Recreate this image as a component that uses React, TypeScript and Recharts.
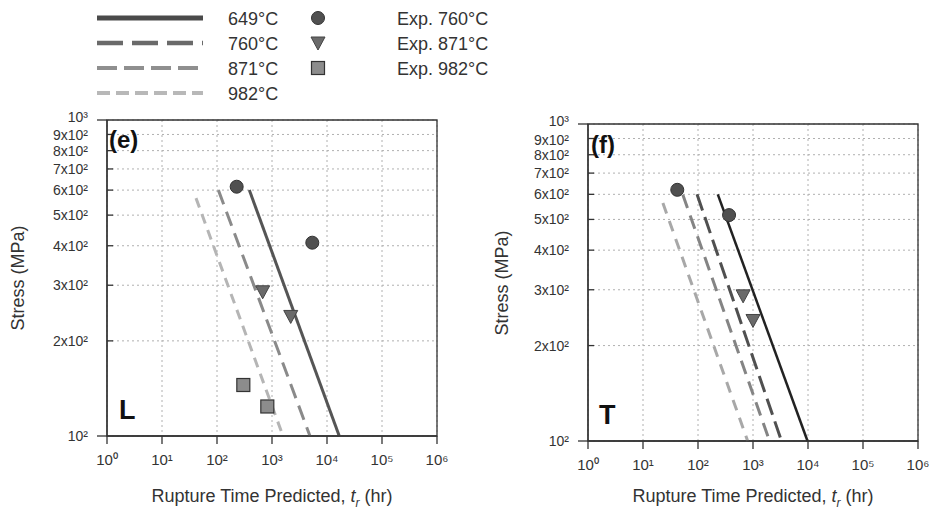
import { ComposedChart, Line, Scatter, XAxis, YAxis, CartesianGrid, ReferenceArea } from "recharts"

const timeTicks = [1, 10, 100, 1e3, 1e4, 1e5, 1e6]
const stressTicks = [100, 200, 300, 400, 500, 600, 700, 800, 900, 1000]
const supDigits = ["⁰", "¹", "²", "³", "⁴", "⁵", "⁶"]

// panel (e), L orientation
const e649 = [{ t: 387, s: 600 }, { t: 16700, s: 100 }]
const e871 = [{ t: 106, s: 600 }, { t: 4900, s: 100 }]
const e982 = [{ t: 41.5, s: 566 }, { t: 1585, s: 100 }]
const eExp760 = [{ t: 228, s: 615 }, { t: 5400, s: 409 }]
const eExp871 = [{ t: 677, s: 286 }, { t: 2190, s: 239 }]
const eExp982 = [{ t: 301, s: 145 }, { t: 822, s: 124 }]

// panel (f), T orientation
const f649 = [{ t: 229, s: 600 }, { t: 9800, s: 100 }]
const f760 = [{ t: 96, s: 600 }, { t: 3300, s: 100 }]
const f871 = [{ t: 53, s: 598 }, { t: 2000, s: 100 }]
const f982 = [{ t: 23, s: 563 }, { t: 800, s: 100 }]
const fExp760 = [{ t: 42, s: 620 }, { t: 367, s: 516 }]
const fExp871 = [{ t: 661, s: 287 }, { t: 1000, s: 240 }]

const font = "'Liberation Sans', Arial, sans-serif"
const txt = "#333"

const fmtTime = (v: number) => "10" + supDigits[Math.round(Math.log10(v))]
const fmtStress = (v: number) => (v === 1000 ? "10³" : v === 100 ? "10²" : `${v / 100}x10²`)

function XTick(p: any) {
  const { x, y, payload } = p
  return (
    <g>
      <line x1={x} x2={x} y1={y} y2={y + 8} stroke="#333" strokeWidth={1.3} />
      <text x={x} y={y + 29} textAnchor="middle" fontSize={15} fill={txt} fontFamily={font}>
        {fmtTime(payload.value)}
      </text>
    </g>
  )
}

function YTick(p: any) {
  const { x, y, payload } = p
  const decade = payload.value === 100 || payload.value === 1000
  // the top label sits a little higher so it doesn't run into 9x10²
  const dy = payload.value === 1000 ? 2 : payload.value === 900 ? 6 : 5
  return (
    <g>
      {decade ? (
        <line x1={x - 10} x2={x} y1={y} y2={y} stroke="#333" strokeWidth={1.3} />
      ) : (
        <line x1={x} x2={x + 6} y1={y} y2={y} stroke="#333" strokeWidth={1.3} />
      )}
      <text x={x - 19} y={y + dy} textAnchor="end" fontSize={14} fill={txt} fontFamily={font}>
        {fmtStress(payload.value)}
      </text>
    </g>
  )
}

const CircleDot = (p: any) => <circle cx={p.cx} cy={p.cy} r={6.5} fill="#505050" stroke="#333" strokeWidth={1} />
const TriDot = (p: any) => (
  <path
    d={`M${p.cx - 7},${p.cy - 6}L${p.cx + 7},${p.cy - 6}L${p.cx},${p.cy + 7}Z`}
    fill="#6a6a6a"
    stroke="#444"
    strokeWidth={1}
  />
)
const SquareDot = (p: any) => (
  <rect x={p.cx - 6.5} y={p.cy - 6.5} width={13} height={13} fill="#8c8c8c" stroke="#333" strokeWidth={1.2} />
)

type Series = { data: { t: number; s: number }[]; stroke: string; dash?: string; width: number }

function Panel(props: {
  left: number
  width: number
  margin: { top: number; right: number; bottom: number; left: number }
  yWidth: number
  lines: Series[]
  exp760: { t: number; s: number }[]
  exp871: { t: number; s: number }[]
  exp982?: { t: number; s: number }[]
}) {
  const { left, width, margin, yWidth, lines } = props
  return (
    <div style={{ position: "absolute", left, top: 0 }}>
      <ComposedChart width={width} height={517} margin={margin}>
        <CartesianGrid stroke="#b0b0b0" strokeDasharray="2 3" />
        <XAxis
          dataKey="t"
          type="number"
          scale="log"
          domain={[1, 1e6]}
          ticks={timeTicks}
          interval={0}
          height={30}
          tickSize={0}
          tickMargin={0}
          tick={<XTick />}
          axisLine={{ stroke: "#333", strokeWidth: 1.3 }}
        />
        <YAxis
          dataKey="s"
          type="number"
          scale="log"
          domain={[100, 1000]}
          ticks={stressTicks}
          interval={0}
          width={yWidth}
          tickSize={0}
          tickMargin={0}
          tick={<YTick />}
          axisLine={{ stroke: "#333", strokeWidth: 1.3 }}
        />
        <ReferenceArea x1={1} x2={1e6} y1={100} y2={1000} fill="none" stroke="#333" strokeWidth={1.3} />
        {lines.map((l, i) => (
          <Line
            key={i}
            data={l.data}
            dataKey="s"
            stroke={l.stroke}
            strokeWidth={l.width}
            strokeDasharray={l.dash}
            dot={false}
            activeDot={false}
            isAnimationActive={false}
          />
        ))}
        <Scatter data={props.exp760} shape={CircleDot} isAnimationActive={false} />
        <Scatter data={props.exp871} shape={TriDot} isAnimationActive={false} />
        {props.exp982 && <Scatter data={props.exp982} shape={SquareDot} isAnimationActive={false} />}
      </ComposedChart>
    </div>
  )
}

function Legend() {
  const rows = [
    { label: "649°C", stroke: "#4a4a4a", dash: undefined, w: 5 },
    { label: "760°C", stroke: "#6a6a6a", dash: "26 9", w: 4.5 },
    { label: "871°C", stroke: "#8f8f8f", dash: "20 7", w: 4 },
    { label: "982°C", stroke: "#b8b8b8", dash: "13 6", w: 4 },
  ]
  const ys = [18, 43, 68, 93]
  return (
    <svg width={600} height={110} style={{ position: "absolute", left: 0, top: 0 }}>
      {rows.map((r, i) => (
        <g key={r.label}>
          <line x1={97} x2={203} y1={ys[i]} y2={ys[i]} stroke={r.stroke} strokeWidth={r.w} strokeDasharray={r.dash} />
          <text x={228} y={ys[i] + 6.5} fontSize={18} fill={txt} fontFamily={font}>
            {r.label}
          </text>
        </g>
      ))}
      <CircleDot cx={318} cy={ys[0]} />
      <TriDot cx={318} cy={ys[1]} />
      <SquareDot cx={318} cy={ys[2]} />
      {["Exp. 760°C", "Exp. 871°C", "Exp. 982°C"].map((s, i) => (
        <text key={s} x={397} y={ys[i] + 6.5} fontSize={18} fill={txt} fontFamily={font}>
          {s}
        </text>
      ))}
    </svg>
  )
}

const labelStyle: React.CSSProperties = { position: "absolute", fontFamily: font, color: "#111", fontWeight: "bold", lineHeight: 1 }
const xTitle: React.CSSProperties = {
  position: "absolute",
  fontFamily: font,
  fontSize: 18,
  color: txt,
  whiteSpace: "nowrap",
  transform: "translate(-50%, -50%)",
}
const yTitle: React.CSSProperties = {
  position: "absolute",
  fontFamily: font,
  fontSize: 18,
  color: txt,
  whiteSpace: "nowrap",
  transform: "translate(-50%, -50%) rotate(-90deg)",
}

function XTitle({ x }: { x: number }) {
  return (
    <div style={{ ...xTitle, left: x, top: 498 }}>
      Rupture Time Predicted, <i>t</i>
      <sub style={{ fontSize: 12 }}>
        <i>r</i>
      </sub>{" "}
      (hr)
    </div>
  )
}

export default function App() {
  return (
    <div style={{ position: "absolute", left: 0, top: 0, width: 932, height: 517, background: "#fff", overflow: "hidden" }}>
      <Legend />
      <Panel
        left={0}
        width={460}
        margin={{ top: 120, right: 23, bottom: 51, left: 0 }}
        yWidth={107}
        lines={[
          { data: e982, stroke: "#b5b5b5", dash: "10 7", width: 3 },
          { data: e871, stroke: "#8a8a8a", dash: "15 8", width: 3 },
          { data: e649, stroke: "#555", width: 3 },
        ]}
        exp760={eExp760}
        exp871={eExp871}
        exp982={eExp982}
      />
      <Panel
        left={480}
        width={452}
        margin={{ top: 124, right: 14, bottom: 46, left: 0 }}
        yWidth={108}
        lines={[
          { data: f982, stroke: "#a8a8a8", dash: "11 8", width: 3 },
          { data: f871, stroke: "#848484", dash: "14 8", width: 3 },
          { data: f760, stroke: "#505050", dash: "17 7", width: 3 },
          { data: f649, stroke: "#222", width: 2.5 },
        ]}
        exp760={fExp760}
        exp871={fExp871}
      />
      <div style={{ ...yTitle, left: 18, top: 278 }}>Stress (MPa)</div>
      <div style={{ ...yTitle, left: 502, top: 283 }}>Stress (MPa)</div>
      <XTitle x={272} />
      <XTitle x={753} />
      <div style={{ ...labelStyle, left: 109, top: 128, fontSize: 24 }}>(e)</div>
      <div style={{ ...labelStyle, left: 591, top: 133, fontSize: 24 }}>(f)</div>
      <div style={{ ...labelStyle, left: 119, top: 397, fontSize: 27 }}>L</div>
      <div style={{ ...labelStyle, left: 599, top: 402, fontSize: 27 }}>T</div>
    </div>
  )
}
